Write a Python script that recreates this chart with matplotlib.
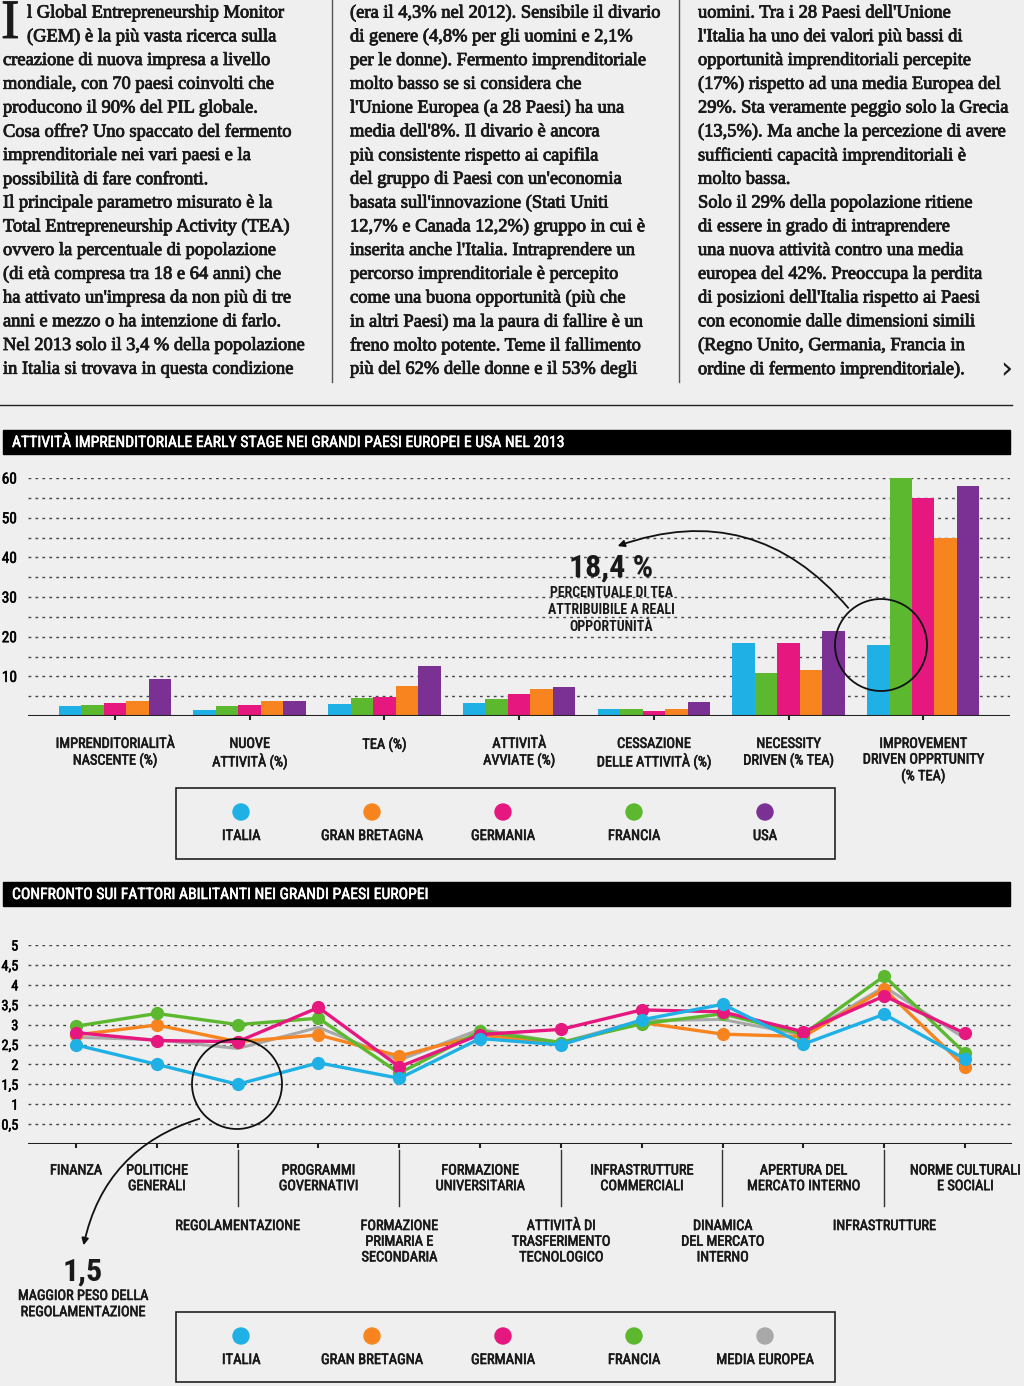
import matplotlib
matplotlib.use("Agg")
import matplotlib.pyplot as plt
import matplotlib.patheffects as pe
from matplotlib import font_manager
from matplotlib.patches import Rectangle, Circle, FancyArrowPatch
import numpy as np

# ---- data: bar chart ----
bar_groups = ["IMPRENDITORIALITÀ\nNASCENTE (%)", "NUOVE\nATTIVITÀ (%)", "TEA (%)",
              "ATTIVITÀ\nAVVIATE (%)", "CESSAZIONE\nDELLE ATTIVITÀ (%)",
              "NECESSITY\nDRIVEN (% TEA)", "IMPROVEMENT\nDRIVEN OPPRTUNITY\n(% TEA)"]
italia = [2.5, 1.4, 3.0, 3.4, 1.7, 18.3, 18.0]
francia = [2.8, 2.4, 4.5, 4.3, 1.7, 10.9, 60.0]
germania = [3.4, 2.8, 4.9, 5.5, 1.3, 18.3, 55.0]
gran_bretagna = [3.9, 3.9, 7.5, 6.9, 1.7, 11.6, 45.0]
usa = [9.4, 3.9, 12.7, 7.2, 3.6, 21.4, 57.9]

# ---- data: line chart ----
factors = ["FINANZA", "POLITICHE\nGENERALI", "REGOLAMENTAZIONE", "PROGRAMMI\nGOVERNATIVI",
           "FORMAZIONE\nPRIMARIA E\nSECONDARIA", "FORMAZIONE\nUNIVERSITARIA",
           "ATTIVITÀ DI\nTRASFERIMENTO\nTECNOLOGICO", "INFRASTRUTTURE\nCOMMERCIALI",
           "DINAMICA\nDEL MERCATO\nINTERNO", "APERTURA DEL\nMERCATO INTERNO",
           "INFRASTRUTTURE", "NORME CULTURALI\nE SOCIALI"]
italia_f = [2.49, 2.0, 1.5, 2.04, 1.65, 2.65, 2.49, 3.12, 3.51, 2.51, 3.26, 2.13]
gb_f = [2.74, 2.99, 2.57, 2.74, 2.21, 2.74, 2.52, 3.05, 2.76, 2.70, 3.89, 1.94]
germania_f = [2.80, 2.60, 2.57, 3.43, 1.94, 2.75, 2.88, 3.37, 3.32, 2.82, 3.72, 2.78]
francia_f = [2.96, 3.28, 3.00, 3.16, 1.78, 2.83, 2.55, 3.02, 3.27, 2.76, 4.22, 2.28]
media_f = [2.68, 2.62, 2.40, 2.93, 2.11, 2.88, 2.55, 3.10, 3.13, 2.74, 3.95, 2.65]

col1 = ["l Global Entrepreneurship Monitor",
        "(GEM) è la più vasta ricerca sulla",
        "creazione di nuova impresa a livello",
        "mondiale, con 70 paesi coinvolti che",
        "producono il 90% del PIL globale.",
        "Cosa offre? Uno spaccato del fermento",
        "imprenditoriale nei vari paesi e la",
        "possibilità di fare confronti.",
        "Il principale parametro misurato è la",
        "Total Entrepreneurship Activity (TEA)",
        "ovvero la percentuale di popolazione",
        "(di età compresa tra 18 e 64 anni) che",
        "ha attivato un'impresa da non più di tre",
        "anni e mezzo o ha intenzione di farlo.",
        "Nel 2013 solo il 3,4 % della popolazione",
        "in Italia si trovava in questa condizione"]
col2 = ["(era il 4,3% nel 2012). Sensibile il divario",
        "di genere (4,8% per gli uomini e 2,1%",
        "per le donne). Fermento imprenditoriale",
        "molto basso se si considera che",
        "l'Unione Europea (a 28 Paesi) ha una",
        "media dell'8%. Il divario è ancora",
        "più consistente rispetto ai capifila",
        "del gruppo di Paesi con un'economia",
        "basata sull'innovazione (Stati Uniti",
        "12,7% e Canada 12,2%) gruppo in cui è",
        "inserita anche l'Italia. Intraprendere un",
        "percorso imprenditoriale è percepito",
        "come una buona opportunità (più che",
        "in altri Paesi) ma la paura di fallire è un",
        "freno molto potente. Teme il fallimento",
        "più del 62% delle donne e il 53% degli"]
col3 = ["uomini. Tra i 28 Paesi dell'Unione",
        "l'Italia ha uno dei valori più bassi di",
        "opportunità imprenditoriali percepite",
        "(17%) rispetto ad una media Europea del",
        "29%. Sta veramente peggio solo la Grecia",
        "(13,5%). Ma anche la percezione di avere",
        "sufficienti capacità imprenditoriali è",
        "molto bassa.",
        "Solo il 29% della popolazione ritiene",
        "di essere in grado di intraprendere",
        "una nuova attività contro una media",
        "europea del 42%. Preoccupa la perdita",
        "di posizioni dell'Italia rispetto ai Paesi",
        "con economie dalle dimensioni simili",
        "(Regno Unito, Germania, Francia in",
        "ordine di fermento imprenditoriale)."]

BLUE = "#1fb0e6"
ORANGE = "#f7841f"
MAGENTA = "#e6177f"
GREEN = "#5cb82e"
PURPLE = "#7b3194"
GRAY = "#a8a8a8"
BG = "#efefef"
INK = "#1a1a1a"


def has_font(name):
    try:
        font_manager.findfont(name, fallback_to_default=False)
        return True
    except Exception:
        return False


COND = "DejaVu Sans"
for cand in ["Roboto Condensed", "Liberation Sans Narrow", "DejaVu Sans Condensed", "Open Sans Condensed"]:
    if has_font(cand):
        COND = cand
        break
SERIF = "Liberation Serif" if has_font("Liberation Serif") else "DejaVu Serif"

# a little extra ink so regular weights look like the "medium" print faces
MED = [pe.withStroke(linewidth=0.45, foreground=INK)]
BODY = [pe.withStroke(linewidth=0.6, foreground=INK)]
WMED = [pe.withStroke(linewidth=0.4, foreground="white")]

W, H = 1024, 1386
fig = plt.figure(figsize=(W / 100, H / 100), dpi=100, facecolor=BG)


def box(x0, y0, x1, y1):
    return [x0 / W, 1 - y1 / H, (x1 - x0) / W, (y1 - y0) / H]


# overlay in pixel coordinates
ov = fig.add_axes([0, 0, 1, 1], zorder=10)
ov.set_xlim(0, W)
ov.set_ylim(H, 0)
ov.axis("off")
ov.patch.set_alpha(0)

# ---- text columns (font size fitted to the column widths) ----
renderer = fig.canvas.get_renderer()
sizes = []
for col, target in [(col1, 302), (col2, 312), (col3, 310)]:
    pw = max(ov.text(0, 0, ln, fontsize=12, family=SERIF).get_window_extent(renderer).width for ln in col)
    sizes.append(12 * target / pw)
for t in list(ov.texts):
    t.remove()
fs = min(sizes)

for ci, (col, x0) in enumerate([(col1, 3), (col2, 350), (col3, 698)]):
    for li, line in enumerate(col):
        x = x0 + (24 if (ci == 0 and li < 2) else 0)
        ov.text(x, 13 + li * 23.75, line, fontsize=fs, family=SERIF, color=INK,
                va="center", ha="left", path_effects=BODY)
ov.text(1, 24, "I", fontsize=40, family=SERIF, color=INK, va="center", ha="left", path_effects=BODY)
ov.text(1006, 370, "›", fontsize=22, family="DejaVu Sans", color=INK, va="center", ha="center")
ov.plot([332, 332], [0, 382], color="#555555", lw=1)
ov.plot([679, 679], [0, 382], color="#555555", lw=1)
ov.plot([0, 1012], [405, 405], color="#222222", lw=1)

# ---- title bars ----
for yb, title in [(430, "ATTIVITÀ IMPRENDITORIALE EARLY STAGE NEI GRANDI PAESI EUROPEI E USA NEL 2013"),
                  (882, "CONFRONTO SUI FATTORI ABILITANTI NEI GRANDI PAESI EUROPEI")]:
    ov.add_patch(Rectangle((3, yb), 1007, 24, color="black", zorder=1))
    ov.text(12, yb + 12.5, title, color="white", fontsize=11.3, family=COND, va="center", ha="left",
            path_effects=WMED)

# ---- bar chart ----
axb = fig.add_axes(box(28, 478, 1010, 716), facecolor="none")
xs = np.arange(len(bar_groups))
bw = 0.167
order = [(italia, BLUE), (francia, GREEN), (germania, MAGENTA), (gran_bretagna, ORANGE), (usa, PURPLE)]
for k, (vals, c) in enumerate(order):
    axb.bar(xs + (k - 2) * bw, vals, width=bw, color=c, zorder=3)
axb.set_xlim(-0.646, 6.644)
axb.set_ylim(0, 60)
for v in range(5, 61, 5):
    axb.axhline(v, color="#444444", lw=1, ls=(0, (2, 3)), zorder=1)
axb.axhline(0, color="#222222", lw=1.5, zorder=4)
axb.set_yticks(range(10, 61, 10))
axb.set_xticks(xs)
axb.set_xticklabels([])
axb.tick_params(axis="y", length=0, pad=8, labelsize=11)
axb.tick_params(axis="x", length=3, width=1.5, color="#222222", direction="out")
for lab in axb.get_yticklabels():
    lab.set_family(COND)
    lab.set_path_effects(MED)
for s in axb.spines.values():
    s.set_visible(False)
for i, g in enumerate(bar_groups):
    axb.annotate(g, (i, 0), xytext=(0, -15), textcoords="offset points", ha="center", va="top",
                 fontsize=10.3, family=COND, color=INK, linespacing=1.15, path_effects=MED)

# legend box 1
leg1 = [("ITALIA", BLUE), ("GRAN BRETAGNA", ORANGE), ("GERMANIA", MAGENTA), ("FRANCIA", GREEN), ("USA", PURPLE)]
ov.add_patch(Rectangle((176, 788), 659, 71, fill=False, ec="#222222", lw=1.2))
for j, (name, c) in enumerate(leg1):
    cx = 241 + 131 * j
    ov.add_patch(Circle((cx, 812), 8, color=c))
    ov.text(cx, 836, name, ha="center", va="center", fontsize=10.5, family=COND, color=INK, path_effects=MED)

# annotation 18,4 %
ov.text(611, 568, "18,4 %", ha="center", va="center", fontsize=23, fontweight="bold", family=COND, color=INK)
ov.text(611, 610, "PERCENTUALE DI TEA\nATTRIBUIBILE A REALI\nOPPORTUNITÀ", ha="center", va="center",
        fontsize=10, fontweight="bold", family=COND, color=INK, linespacing=1.3)
ov.add_patch(Circle((881, 645), 46, fill=False, ec="#111111", lw=1.3))
ov.add_patch(FancyArrowPatch((850, 610), (615, 547), connectionstyle="arc3,rad=0.35",
                             arrowstyle="-|>,head_length=4,head_width=2", color="#111111", lw=1.3))

# ---- line chart ----
axl = fig.add_axes(box(28, 945, 1012, 1144), facecolor="none")
xf = np.arange(len(factors))
axl.set_xlim(-0.594, 11.58)
axl.set_ylim(0, 5)
for v in np.arange(0.5, 5.01, 0.5):
    axl.axhline(v, color="#444444", lw=1, ls=(0, (2, 3)), zorder=1)
axl.axhline(0, color="#222222", lw=1.5, zorder=4)
axl.plot(xf, media_f, color=GRAY, lw=2.2, zorder=3)
for vals, c in [(gb_f, ORANGE), (francia_f, GREEN), (germania_f, MAGENTA), (italia_f, BLUE)]:
    axl.plot(xf, vals, color=c, lw=2.4, marker="o", ms=8.5, zorder=4)
ytk = np.arange(0.5, 5.01, 0.5)
axl.set_yticks(ytk)
axl.set_yticklabels([("%g" % v).replace(".", ",") for v in ytk])
axl.set_xticks(xf)
axl.set_xticklabels([])
axl.tick_params(axis="y", length=0, pad=7, labelsize=10.3)
axl.tick_params(axis="x", length=3, width=1.5, color="#222222", direction="out")
for lab in axl.get_yticklabels():
    lab.set_family(COND)
    lab.set_path_effects(MED)
for s in axl.spines.values():
    s.set_visible(False)
for i, f in enumerate(factors):
    lower = i in (2, 4, 6, 8, 10)
    off = -54 if lower else -14
    axl.annotate(f, (i, 0), xytext=(0, off), textcoords="offset points", ha="center", va="top",
                 fontsize=10.3, family=COND, color=INK, linespacing=1.15,
                 annotation_clip=False, path_effects=MED)
    if lower:
        ov.plot([76 + 80.8 * i] * 2, [1150, 1206], color="#333333", lw=1)

# annotation 1,5
ov.add_patch(Circle((237, 1084), 45, fill=False, ec="#111111", lw=1.3))
ov.add_patch(FancyArrowPatch((202, 1118), (83, 1248), connectionstyle="arc3,rad=0.3",
                             arrowstyle="-|>,head_length=4,head_width=2", color="#111111", lw=1.3))
ov.text(83, 1272, "1,5", ha="center", va="center", fontsize=23, fontweight="bold", family=COND, color=INK)
ov.text(83, 1304, "MAGGIOR PESO DELLA\nREGOLAMENTAZIONE", ha="center", va="center",
        fontsize=10.3, family=COND, color=INK, linespacing=1.2, path_effects=MED)

# legend box 2
leg2 = [("ITALIA", BLUE), ("GRAN BRETAGNA", ORANGE), ("GERMANIA", MAGENTA), ("FRANCIA", GREEN), ("MEDIA EUROPEA", GRAY)]
ov.add_patch(Rectangle((176, 1312), 659, 70, fill=False, ec="#222222", lw=1.2))
for j, (name, c) in enumerate(leg2):
    cx = 241 + 131 * j
    ov.add_patch(Circle((cx, 1336), 8, color=c))
    ov.text(cx, 1360, name, ha="center", va="center", fontsize=10.5, family=COND, color=INK, path_effects=MED)

fig.savefig("out.png", dpi=100, facecolor=BG)
